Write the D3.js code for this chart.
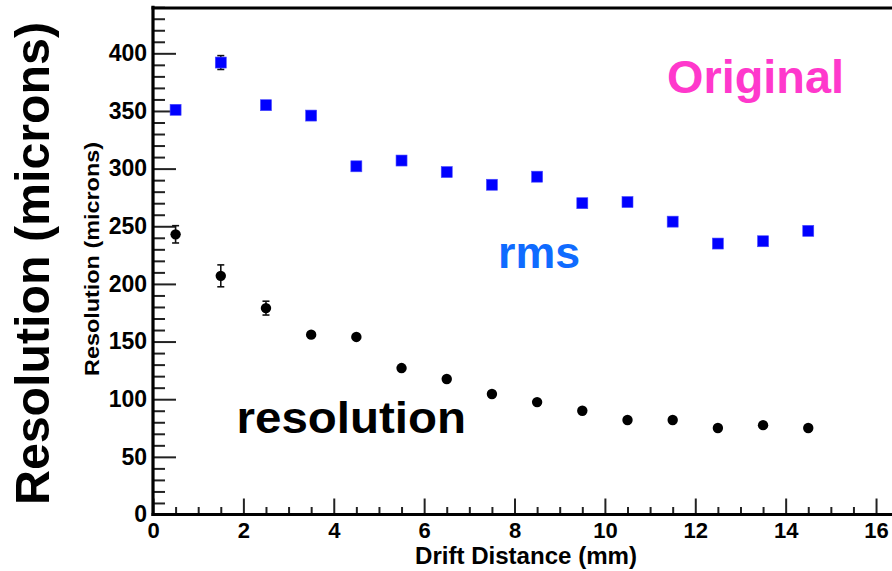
<!DOCTYPE html>
<html>
<head>
<meta charset="utf-8">
<script src="https://cdn.jsdelivr.net/npm/d3@7"></script>
<style>
  html, body { margin: 0; padding: 0; background: #fff; }
  svg { display: block; }
  text { font-family: "Liberation Sans", Arial, Helvetica, sans-serif; font-weight: bold; }
</style>
</head>
<body>
<svg id="chart" width="892" height="571"></svg>
<script>
// ---- data ----
const driftDistance = [0.5, 1.5, 2.5, 3.5, 4.5, 5.5, 6.5, 7.5, 8.5, 9.5, 10.5, 11.5, 12.5, 13.5, 14.5];
const rmsValues     = [351, 392, 355, 346, 302, 307, 297, 286, 293, 270, 271, 254, 235, 237, 246];
const rmsErrors     = [2, 6, 2, 2, 2, 2, 2, 2, 2, 2, 2, 2, 2, 2, 2];
const resValues     = [243, 207, 179, 156, 154, 127, 117.5, 104.5, 97.5, 90, 82, 82, 75, 77.5, 75];
const resErrors     = [7.5, 9.5, 6, 2, 2, 2, 2, 2, 2, 2, 1.5, 1.5, 1.5, 1.5, 1.5];
const xMajorTicks   = [0, 2, 4, 6, 8, 10, 12, 14, 16];
const yMajorTicks   = [0, 50, 100, 150, 200, 250, 300, 350, 400];
const xTitle = "Drift Distance (mm)";
const yTitle = "Resolution (microns)";

// ---- layout ----
const svg = d3.select("#chart");
const x0 = 153, yBase = 514.5, yTop = 7.2;
const x = d3.scaleLinear().domain([0, 16.5]).range([x0, x0 + 16.5 * 45.19]);
const y = d3.scaleLinear().domain([0, 440]).range([yBase, yTop]);

const xMinor = d3.range(0, 16.51, 0.5).filter(v => !xMajorTicks.includes(v));
const yMinor = d3.range(0, 441, 10).filter(v => !yMajorTicks.includes(v));

const labelFont = '"Liberation Sans", Arial, sans-serif';

// minor ticks
svg.append("g").attr("transform", `translate(0,${yBase})`)
  .call(d3.axisBottom(x).tickValues(xMinor).tickSize(-7.5).tickFormat(""))
  .call(g => g.select(".domain").remove())
  .call(g => g.selectAll("line").attr("stroke", "#222").attr("stroke-width", 2));
svg.append("g").attr("transform", `translate(${x0},0)`)
  .call(d3.axisLeft(y).tickValues(yMinor).tickSize(-12).tickFormat(""))
  .call(g => g.select(".domain").remove())
  .call(g => g.selectAll("line").attr("stroke", "#222").attr("stroke-width", 2));

// major ticks with labels
svg.append("g").attr("transform", `translate(0,${yBase})`)
  .call(d3.axisBottom(x).tickValues(xMajorTicks).tickSize(-16).tickPadding(7.5).tickFormat(d3.format("d")))
  .call(g => g.select(".domain").remove())
  .call(g => g.selectAll("line").attr("stroke", "#222").attr("stroke-width", 2))
  .call(g => g.selectAll("text").attr("fill", "#000").style("font-size", "22px").style("font-weight", "bold")
        .style("font-family", labelFont));
svg.append("g").attr("transform", `translate(${x0},0)`)
  .call(d3.axisLeft(y).tickValues(yMajorTicks).tickSize(-23).tickPadding(6).tickFormat(d3.format("d")))
  .call(g => g.select(".domain").remove())
  .call(g => g.selectAll("line").attr("stroke", "#222").attr("stroke-width", 2))
  .call(g => g.selectAll("text").attr("fill", "#000").style("font-size", "23px").style("font-weight", "bold")
        .style("font-family", labelFont));

// frame lines
svg.append("line").attr("x1", x0).attr("x2", x0).attr("y1", yTop - 1.5).attr("y2", yBase + 1.5)
  .attr("stroke", "#000").attr("stroke-width", 3.2);
svg.append("line").attr("x1", x0 - 1.5).attr("x2", 892).attr("y1", yBase).attr("y2", yBase)
  .attr("stroke", "#000").attr("stroke-width", 3.2);
svg.append("line").attr("x1", x0 - 1.5).attr("x2", 892).attr("y1", yTop + 0.8).attr("y2", yTop + 0.8)
  .attr("stroke", "#000").attr("stroke-width", 3.2);

// error bars
function errorBars(vals, errs, color) {
  const g = svg.append("g").attr("stroke", color).attr("stroke-width", 1.6);
  driftDistance.forEach((d, i) => {
    const cx = x(d), lo = y(vals[i] - errs[i]), hi = y(vals[i] + errs[i]);
    g.append("line").attr("x1", cx).attr("x2", cx).attr("y1", lo).attr("y2", hi);
    g.append("line").attr("x1", cx - 3.5).attr("x2", cx + 3.5).attr("y1", lo).attr("y2", lo);
    g.append("line").attr("x1", cx - 3.5).attr("x2", cx + 3.5).attr("y1", hi).attr("y2", hi);
  });
}
errorBars(rmsValues, rmsErrors, "#111");
errorBars(resValues, resErrors, "#111");

// rms markers (blue squares)
svg.append("g").selectAll("rect").data(driftDistance).join("rect")
  .attr("x", d => x(d) - 5.5).attr("y", (d, i) => y(rmsValues[i]) - 5.5)
  .attr("width", 11).attr("height", 11).attr("fill", "#0000ff")
  .attr("stroke", "#4a4aff").attr("stroke-width", 0.6);

// resolution markers (black circles)
svg.append("g").selectAll("circle").data(driftDistance).join("circle")
  .attr("cx", d => x(d)).attr("cy", (d, i) => y(resValues[i]))
  .attr("r", 5.2).attr("fill", "#000");

// axis titles
svg.append("text").attr("x", 526).attr("y", 563.5).attr("text-anchor", "middle")
  .attr("font-size", 23).attr("textLength", 222).attr("lengthAdjust", "spacingAndGlyphs")
  .attr("fill", "#000").text(xTitle);
svg.append("text").attr("transform", "translate(99,259) rotate(-90)").attr("text-anchor", "middle")
  .attr("font-size", 20).attr("textLength", 234).attr("lengthAdjust", "spacingAndGlyphs")
  .attr("fill", "#000").text(yTitle);
svg.append("text").attr("transform", "translate(49,263.5) rotate(-90)").attr("text-anchor", "middle")
  .attr("font-size", 48).attr("textLength", 483).attr("lengthAdjust", "spacingAndGlyphs")
  .attr("fill", "#000").text(yTitle);

// annotations
svg.append("text").attr("x", 667).attr("y", 92.7).attr("font-size", 47)
  .attr("textLength", 177).attr("lengthAdjust", "spacingAndGlyphs")
  .attr("fill", "#ff38cc").text("Original");
svg.append("text").attr("x", 498).attr("y", 268.3).attr("font-size", 44.5)
  .attr("textLength", 82).attr("lengthAdjust", "spacingAndGlyphs")
  .attr("fill", "#0f6bff").text("rms");
svg.append("text").attr("x", 236.5).attr("y", 432.7).attr("font-size", 44)
  .attr("textLength", 229.5).attr("lengthAdjust", "spacingAndGlyphs")
  .attr("fill", "#000").text("resolution");
</script>
</body>
</html>
